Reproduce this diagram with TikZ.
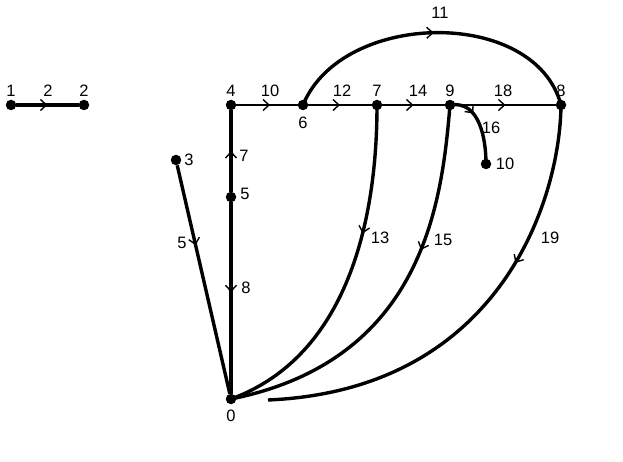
\documentclass[tikz,border=0pt]{standalone}
\usepackage{fontspec}
\setmainfont{Liberation Sans}
\usetikzlibrary{arrows.meta,decorations.markings}
\begin{document}
\begin{tikzpicture}[x=1pt,y=-1pt,
  dot/.style={circle,fill=black,inner sep=0pt,minimum size=10.5pt},
  lbl/.style={inner sep=0pt,font=\fontsize{16.5}{18}\selectfont},
  thickedge/.style={line width=3.4pt},
  thinedge/.style={line width=1.2pt},
  midarrow/.style={postaction={decorate,decoration={markings,
      mark=at position #1 with {\arrow{Straight Barb[length=6pt,width=11pt,line width=1.4pt]}}}}}]
\useasboundingbox (0,0) rectangle (623,462);
% nodes
\node[dot] (n1) at (11,105) {};
\node[dot] (n2) at (84,105) {};
\node[dot] (n4) at (231,105) {};
\node[dot] (n6) at (303,105) {};
\node[dot] (n7) at (377,105) {};
\node[dot] (n9) at (450,105) {};
\node[dot] (n8) at (561,105) {};
\node[dot] (n10) at (486,164) {};
\node[dot] (n3) at (176,160) {};
\node[dot] (n5) at (231,197) {};
\node[dot] (n0) at (231,399) {};
\coordinate (e0) at (268,400);
% node labels
\node[lbl] (l1) at (11,91) {1};
\node[lbl] (l2) at (84,91) {2};
\node[lbl] (l4) at (231,91) {4};
\node[lbl] (l6) at (303,123) {6};
\node[lbl] (l7) at (377,91) {7};
\node[lbl] (l9) at (450,91) {9};
\node[lbl] (l8) at (561,91) {8};
\node[lbl] (l10) at (505,164) {10};
\node[lbl] (l3) at (189,160) {3};
\node[lbl] (l5) at (245,194) {5};
\node[lbl] (l0) at (231,416) {0};
% edge labels
\node[lbl] (w2) at (48,91) {2};
\node[lbl] (w10) at (270,91) {10};
\node[lbl] (w12) at (342,91) {12};
\node[lbl] (w14) at (418,91) {14};
\node[lbl] (w18) at (503,91) {18};
\node[lbl] (w11) at (440,13) {11};
\node[lbl] (w16) at (491,128) {16};
\node[lbl] (w7) at (244,156) {7};
\node[lbl] (w8) at (246,288) {8};
\node[lbl] (w5) at (182,243) {5};
\node[lbl] (w13) at (380,238) {13};
\node[lbl] (w15) at (443,240) {15};
\node[lbl] (w19) at (550,238) {19};
% edges
\draw[thickedge,midarrow=0.5] (n1) -- (n2);
\draw[thinedge,midarrow=0.55] (n4) -- (n6);
\draw[thinedge,midarrow=0.5] (n6) -- (n7);
\draw[thinedge,midarrow=0.5] (n7) -- (n9);
\draw[thinedge,midarrow=0.5] (n9) -- (n8);
\draw[thickedge,midarrow=0.5] (n6.center) .. controls (342,10) and (535,7) .. (n8.center);
\draw[thickedge,midarrow=0.5] (n5) -- (n4);
\draw[thickedge,midarrow=0.47] (n5) -- (n0);
\draw[thickedge,midarrow=0.35] (n3) -- (n0);
\draw[thickedge,midarrow=0.37] (n7.center) .. controls (377,180) and (365,350) .. (n0.center);
\draw[thickedge,midarrow=0.37] (n9.center) .. controls (442,200) and (425,360) .. (n0.center);
\draw[thickedge,midarrow=0.36] (n8.center) .. controls (560,200) and (500,390) .. (e0);
\draw[thickedge,midarrow=0.33] (n9.center) .. controls (480,100) and (486,140) .. (n10.center);
\end{tikzpicture}
\end{document}
